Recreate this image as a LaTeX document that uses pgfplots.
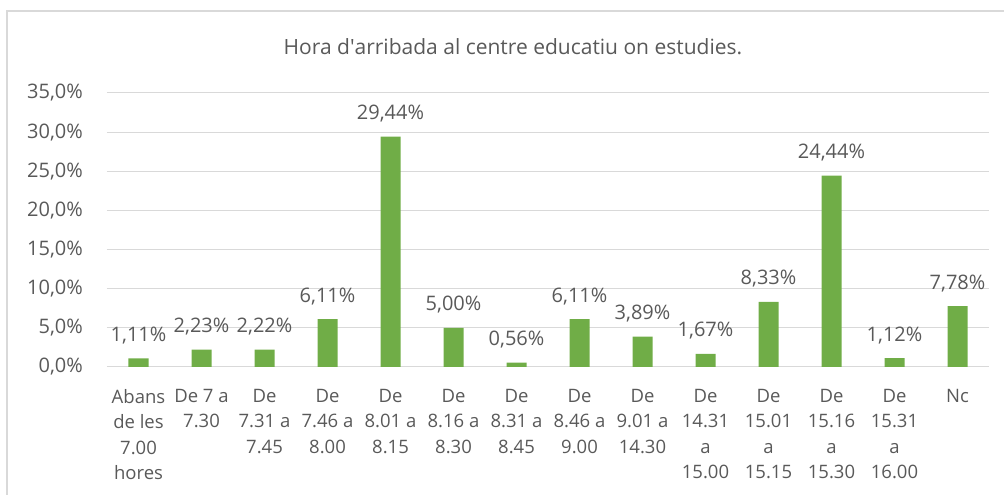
\documentclass[border=0pt]{standalone}
\usepackage{fontspec}
\setmainfont{Open Sans}
\usepackage{pgfplots}
\pgfplotsset{compat=1.18}
\definecolor{barc}{HTML}{70AD47}
\definecolor{txt}{HTML}{595959}
\definecolor{gridc}{HTML}{D9D9D9}
\begin{document}
\begin{tikzpicture}[x=1pt,y=1pt]
\useasboundingbox (0,0) rectangle (1004,495);
\draw[gridc, line width=1.5pt] (7,0) -- (7,484) -- (1004,484);
\node[txt, font=\fontsize{21}{25}\selectfont, inner sep=0] at (513,448) {Hora d\textquotesingle arribada al centre educatiu on estudies.};
\begin{axis}[
  at={(107pt,128pt)}, anchor=south west,
  scale only axis, width=882pt, height=274pt,
  ymin=0, ymax=35, ytick={0,5,...,35},
  xmin=-0.5, xmax=13.5, xtick={0,...,13},
  xticklabels={{Abans\\de les\\7.00\\hores},{De 7 a\\7.30},{De\\7.31 a\\7.45},{De\\7.46 a\\8.00},{De\\8.01 a\\8.15},{De\\8.16 a\\8.30},{De\\8.31 a\\8.45},{De\\8.46 a\\9.00},{De\\9.01 a\\14.30},{De\\14.31\\a\\15.00},{De\\15.01\\a\\15.15},{De\\15.16\\a\\15.30},{De\\15.31\\a\\16.00},{Nc}},
  ymajorgrids, grid style={gridc, line width=1pt},
  axis line style={draw=none},
  major tick length=0pt,
  /pgf/number format/assume math mode=true,
  yticklabel={\pgfmathprintnumber[fixed,fixed zerofill,precision=1,use comma]{\tick}\%},
  yticklabel style={txt, font=\fontsize{20}{24}\selectfont, anchor=east, inner sep=0, xshift=-24pt},
  xticklabel style={txt, font=\fontsize{18.5}{25.5}\selectfont, align=center, anchor=north, inner sep=0, yshift=-22pt},
  ybar, bar width=20pt,
  nodes near coords={\pgfmathprintnumber[fixed,fixed zerofill,precision=2,use comma]{\pgfplotspointmeta}\%},
  every node near coord/.append style={txt, font=\fontsize{20}{24}\selectfont, anchor=base, inner sep=0, yshift=17pt},
]
\addplot[fill=barc, draw=none] coordinates {
(0,1.11) (1,2.23) (2,2.22) (3,6.11) (4,29.44) (5,5.00) (6,0.56) (7,6.11) (8,3.89) (9,1.67) (10,8.33) (11,24.44) (12,1.12) (13,7.78)
};
\end{axis}
\end{tikzpicture}
\end{document}
